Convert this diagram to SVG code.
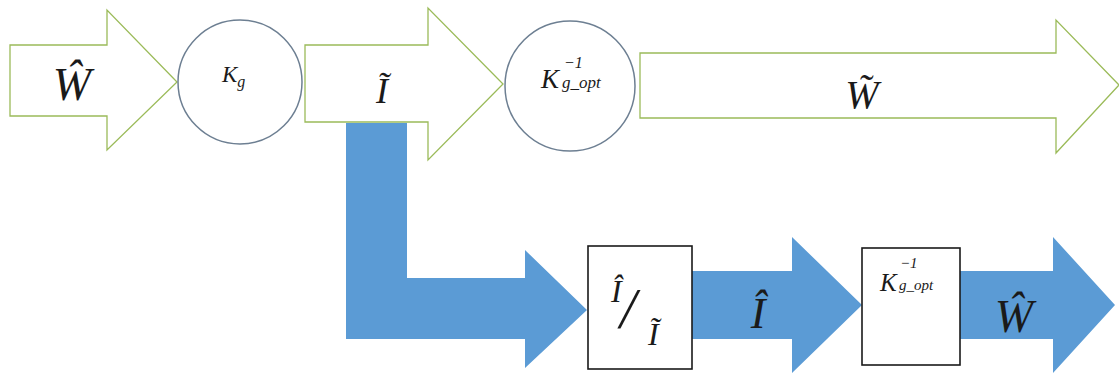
<svg xmlns="http://www.w3.org/2000/svg" width="1119" height="375" viewBox="0 0 1119 375">
<style>
.garrow{fill:#ffffff;stroke:#9bbb59;stroke-width:1.3}
.circ{fill:#ffffff;stroke:#6d7f92;stroke-width:1.5}
.barrow{fill:#5b9bd5;stroke:none}
.box{fill:#ffffff;stroke:#1a1a1a;stroke-width:1.6}
.m{font-family:"Liberation Serif","DejaVu Serif",serif;font-style:italic;fill:#1a1a1a}
</style>
<rect width="1119" height="375" fill="#ffffff"/>
<g id="connectors">
  <polygon id="arrow-w-hat" class="garrow" points="10,45 107,45 107,10 177,82 107,150 107,116 10,116"/>
  <polygon id="arrow-i-tilde" class="garrow" points="305,45 428,45 428,8 503,84 428,160 428,122 305,122"/>
  <polygon id="arrow-w-tilde" class="garrow" points="640,53 1056,53 1056,20 1119,85 1056,153 1056,118 640,118"/>
  <polygon id="arrow-branch" class="barrow" points="346,123 407,123 407,278 525,278 525,250 587,310 525,368 525,339 346,339"/>
  <polygon id="arrow-i-hat" class="barrow" points="692,271 792,271 792,237 862,305 792,373 792,339 692,339"/>
  <polygon id="arrow-w-hat-out" class="barrow" points="960,271 1053,271 1053,237 1115,305 1053,373 1053,339 960,339"/>
</g>
<g id="labels-arrows">
  <text class="m" x="72" y="100" font-size="46" text-anchor="middle">Ŵ</text>
  <text class="m" x="382" y="103" font-size="36" text-anchor="middle">Ĩ</text>
  <text class="m" x="862" y="108" font-size="40" text-anchor="middle">W̃</text>
  <text class="m" x="758" y="328" font-size="44" text-anchor="middle">Î</text>
  <text class="m" x="1014" y="332" font-size="46" text-anchor="middle">Ŵ</text>
</g>
<g id="node-kg">
  <circle class="circ" cx="240" cy="82" r="62"/>
  <text class="m" x="222" y="82" font-size="23">K<tspan font-size="16" dy="5">g</tspan></text>
</g>
<g id="node-kgopt">
  <circle class="circ" cx="570" cy="86" r="65"/>
  <text class="m" x="541" y="88" font-size="27">K</text>
  <text class="m" x="564" y="68" font-size="16">−1</text>
  <text class="m" x="562" y="88" font-size="17">g_opt</text>
</g>
<g id="node-ratio">
  <rect class="box" x="588" y="246" width="104" height="123"/>
  <text class="m" x="611" y="302" font-size="32">Î</text>
  <text class="m" x="620" y="328" font-size="58">/</text>
  <text class="m" x="648" y="345" font-size="32">Ĩ</text>
</g>
<g id="node-kgopt-box">
  <rect class="box" x="862" y="248" width="98" height="117"/>
  <text class="m" x="880" y="291" font-size="25">K</text>
  <text class="m" x="900" y="268" font-size="15">−1</text>
  <text class="m" x="899" y="290" font-size="15">g_opt</text>
</g>
</svg>
